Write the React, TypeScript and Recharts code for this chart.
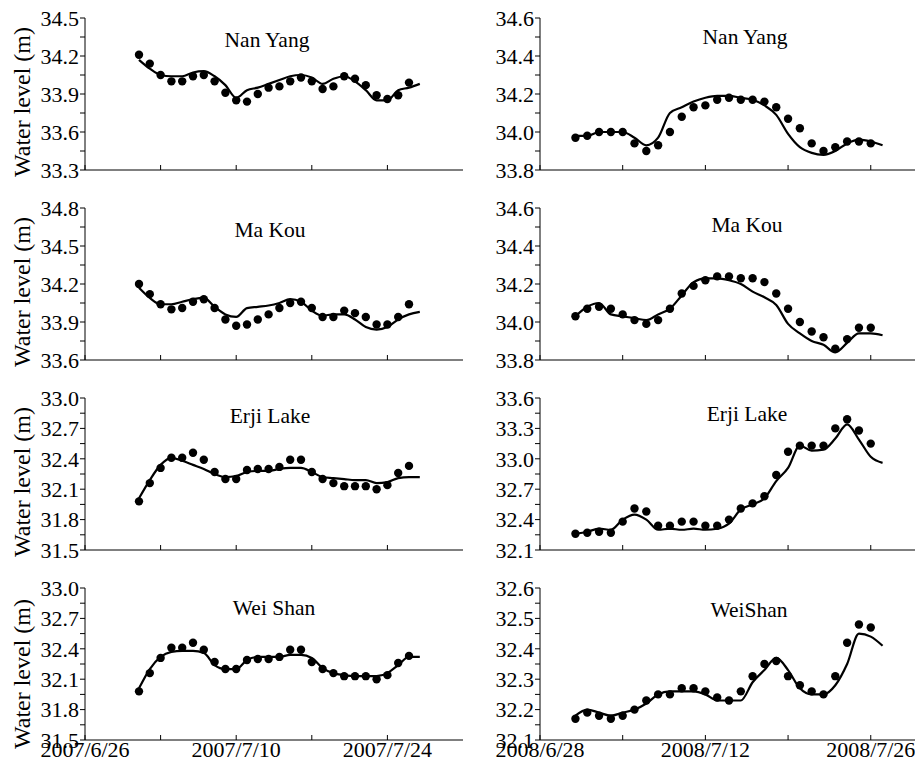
import React from 'react';
import { ComposedChart, Line, Scatter, XAxis, YAxis } from 'recharts';

// day offsets from the first axis date (2007/6/26 and 2008/6/28)
const obsDays2007 = [5, 6, 7, 8, 9, 10, 11, 12, 13, 14, 15, 16, 17, 18, 19, 20, 21, 22, 23, 24, 25, 26, 27, 28, 29, 30];
const simDays2007 = [5, 6, 7, 8, 9, 10, 11, 12, 13, 14, 15, 16, 17, 18, 19, 20, 21, 22, 23, 24, 25, 26, 27, 28, 29, 30, 31];
const obsDays2008 = [3, 4, 5, 6, 7, 8, 9, 10, 11, 12, 13, 14, 15, 16, 17, 18, 19, 20, 21, 22, 23, 24, 25, 26, 27, 28];
const simDays2008 = [3, 4, 5, 6, 7, 8, 9, 10, 11, 12, 13, 14, 15, 16, 17, 18, 19, 20, 21, 22, 23, 24, 25, 26, 27, 28, 29];

const xTicks = [0, 7, 14, 21, 28];
const xLabelDays = [0, 14, 28];
const xLabels2007 = ['2007/6/26', '2007/7/10', '2007/7/24'];
const xLabels2008 = ['2008/6/28', '2008/7/12', '2008/7/26'];

// 2007 observed / simulated
const nanYang07Obs = [34.21, 34.14, 34.05, 34.0, 34.0, 34.04, 34.05, 34.0, 33.91, 33.85, 33.84, 33.9, 33.95, 33.96, 34.0, 34.03, 34.0, 33.94, 33.96, 34.04, 34.02, 33.97, 33.89, 33.86, 33.89, 33.99];
const nanYang07Sim = [34.17, 34.1, 34.05, 34.04, 34.04, 34.07, 34.08, 34.04, 33.97, 33.87, 33.93, 33.95, 33.98, 34.01, 34.04, 34.05, 34.03, 33.98, 34.02, 34.04, 34.0, 33.93, 33.85, 33.85, 33.93, 33.95, 33.98];
const maKou07Obs = [34.2, 34.12, 34.04, 34.0, 34.01, 34.06, 34.08, 34.01, 33.92, 33.87, 33.88, 33.92, 33.96, 34.01, 34.05, 34.06, 34.01, 33.94, 33.94, 33.99, 33.97, 33.94, 33.88, 33.88, 33.94, 34.04];
const maKou07Sim = [34.17, 34.09, 34.04, 34.04, 34.06, 34.08, 34.09, 34.02, 33.96, 33.94, 34.01, 34.02, 34.03, 34.05, 34.08, 34.06, 33.99, 33.95, 33.96, 33.96, 33.92, 33.86, 33.84, 33.86, 33.92, 33.96, 33.98];
const erji07Obs = [31.98, 32.16, 32.31, 32.41, 32.41, 32.46, 32.39, 32.27, 32.2, 32.2, 32.29, 32.3, 32.3, 32.32, 32.39, 32.39, 32.27, 32.2, 32.16, 32.13, 32.13, 32.13, 32.1, 32.14, 32.26, 32.33];
const erji07Sim = [32.01, 32.19, 32.34, 32.41, 32.38, 32.34, 32.3, 32.25, 32.22, 32.23, 32.27, 32.28, 32.28, 32.3, 32.31, 32.31, 32.27, 32.22, 32.21, 32.2, 32.19, 32.19, 32.16, 32.17, 32.21, 32.22, 32.22];
const weiShan07Obs = [31.98, 32.16, 32.31, 32.41, 32.41, 32.46, 32.39, 32.27, 32.2, 32.2, 32.29, 32.3, 32.3, 32.32, 32.39, 32.39, 32.27, 32.2, 32.16, 32.13, 32.13, 32.13, 32.1, 32.14, 32.26, 32.33];
const weiShan07Sim = [32.01, 32.2, 32.32, 32.37, 32.38, 32.38, 32.36, 32.24, 32.2, 32.2, 32.29, 32.32, 32.32, 32.32, 32.34, 32.34, 32.31, 32.21, 32.16, 32.14, 32.13, 32.13, 32.13, 32.16, 32.24, 32.32, 32.32];

// 2008 observed / simulated
const nanYang08Obs = [33.97, 33.98, 34.0, 34.0, 34.0, 33.94, 33.9, 33.93, 34.0, 34.08, 34.13, 34.14, 34.17, 34.18, 34.17, 34.17, 34.16, 34.13, 34.07, 34.02, 33.94, 33.9, 33.92, 33.95, 33.95, 33.94];
const nanYang08Sim = [33.98, 33.98, 34.0, 34.0, 34.0, 33.97, 33.93, 33.97, 34.1, 34.13, 34.16, 34.18, 34.19, 34.19, 34.18, 34.17, 34.14, 34.09, 33.99, 33.92, 33.89, 33.88, 33.9, 33.94, 33.96, 33.95, 33.93];
const maKou08Obs = [34.03, 34.07, 34.08, 34.07, 34.04, 34.01, 33.99, 34.01, 34.07, 34.15, 34.19, 34.22, 34.24, 34.24, 34.23, 34.23, 34.21, 34.15, 34.07, 34.0, 33.95, 33.92, 33.86, 33.91, 33.97, 33.97];
const maKou08Sim = [34.03, 34.08, 34.1, 34.04, 34.03, 34.02, 34.01, 34.04, 34.07, 34.14, 34.21, 34.23, 34.23, 34.22, 34.2, 34.16, 34.13, 34.09, 33.99, 33.94, 33.9, 33.88, 33.84, 33.89, 33.94, 33.94, 33.93];
const erji08Obs = [32.26, 32.27, 32.28, 32.27, 32.38, 32.51, 32.48, 32.34, 32.34, 32.38, 32.38, 32.34, 32.34, 32.4, 32.51, 32.56, 32.63, 32.84, 33.07, 33.13, 33.13, 33.13, 33.3, 33.39, 33.28, 33.15];
const erji08Sim = [32.26, 32.28, 32.31, 32.3, 32.4, 32.45, 32.4, 32.3, 32.31, 32.3, 32.31, 32.3, 32.31, 32.36, 32.5, 32.55, 32.61, 32.78, 32.91, 33.13, 33.08, 33.09, 33.2, 33.34, 33.19, 33.02, 32.96];
const weiShan08Obs = [32.17, 32.19, 32.18, 32.17, 32.18, 32.2, 32.23, 32.25, 32.25, 32.27, 32.27, 32.26, 32.24, 32.23, 32.26, 32.31, 32.35, 32.36, 32.31, 32.28, 32.26, 32.25, 32.31, 32.42, 32.48, 32.47];
const weiShan08Sim = [32.18, 32.2, 32.19, 32.18, 32.19, 32.2, 32.22, 32.25, 32.26, 32.26, 32.26, 32.25, 32.23, 32.23, 32.23, 32.29, 32.33, 32.37, 32.33, 32.27, 32.25, 32.25, 32.28, 32.35, 32.45, 32.44, 32.41];

// y ticks (major labelled, minor unlabelled)
const ticksNanYang07 = [33.3, 33.45, 33.6, 33.75, 33.9, 34.05, 34.2, 34.35, 34.5];
const majorsNanYang07 = [33.3, 33.6, 33.9, 34.2, 34.5];
const ticksMaKou07 = [33.6, 33.75, 33.9, 34.05, 34.2, 34.35, 34.5, 34.65, 34.8];
const majorsMaKou07 = [33.6, 33.9, 34.2, 34.5, 34.8];
const ticksLow07 = [31.5, 31.65, 31.8, 31.95, 32.1, 32.25, 32.4, 32.55, 32.7, 32.85, 33.0];
const majorsLow07 = [31.5, 31.8, 32.1, 32.4, 32.7, 33.0];
const ticksHigh08 = [33.8, 33.9, 34.0, 34.1, 34.2, 34.3, 34.4, 34.5, 34.6];
const majorsHigh08 = [33.8, 34.0, 34.2, 34.4, 34.6];
const ticksErji08 = [32.1, 32.25, 32.4, 32.55, 32.7, 32.85, 33.0, 33.15, 33.3, 33.45, 33.6];
const majorsErji08 = [32.1, 32.4, 32.7, 33.0, 33.3, 33.6];
const ticksWeiShan08 = [32.1, 32.15, 32.2, 32.25, 32.3, 32.35, 32.4, 32.45, 32.5, 32.55, 32.6];
const majorsWeiShan08 = [32.1, 32.2, 32.3, 32.4, 32.5, 32.6];

const FONT = 'Liberation Serif, serif';

type PanelProps = {
  left: number;
  top: number;
  title: string;
  titleX: number;
  titleY: number;
  obsDays: number[];
  obs: number[];
  simDays: number[];
  sim: number[];
  yDomain: [number, number];
  yTicks: number[];
  yMajors: number[];
  xMax: number;
  xLabels: string[];
  showX: boolean;
};

function Panel(p: PanelProps) {
  const simRows = p.simDays.map((d, i) => ({ d, v: p.sim[i] }));
  const obsRows = p.obsDays.map((d, i) => ({ d, v: p.obs[i] }));
  const xAxisH = p.showX ? 27 : 20;
  const height = 18 + 152 + xAxisH;
  const fmtY = (v: number) => (p.yMajors.some((m) => Math.abs(m - v) < 1e-6) ? v.toFixed(1) : '');
  const fmtX = (v: number) => {
    if (!p.showX) return '';
    const i = xLabelDays.indexOf(v);
    return i >= 0 ? p.xLabels[i] : '';
  };
  const tickStyle = { fontFamily: FONT, fontSize: 22, fill: '#000' };
  return (
    <div style={{ position: 'absolute', left: p.left, top: p.top, width: 470, height, fontFamily: FONT }}>
      <ComposedChart width={470} height={height} margin={{ top: 18, right: 7, bottom: 0, left: 0 }} style={{ fontFamily: FONT }}>
        <XAxis
          xAxisId="b"
          type="number"
          dataKey="d"
          domain={[0, p.xMax]}
          ticks={xTicks}
          tickFormatter={fmtX}
          height={xAxisH}
          tickSize={-5}
          tickMargin={6}
          interval={0}
          tick={tickStyle}
          stroke="#000"
          allowDataOverflow
        />
        <XAxis
          xAxisId="t"
          orientation="top"
          type="number"
          dataKey="d"
          domain={[0, p.xMax]}
          ticks={xTicks}
          tickFormatter={() => ''}
          height={0}
          mirror
          tickSize={4}
          stroke="#000"
        />
        <YAxis
          yAxisId="l"
          type="number"
          domain={p.yDomain}
          ticks={p.yTicks}
          tickFormatter={fmtY}
          interval={0}
          width={85}
          tickSize={5}
          tickMargin={1}
          tick={tickStyle}
          stroke="#000"
          allowDataOverflow
        />
        <YAxis
          yAxisId="r"
          orientation="right"
          type="number"
          domain={p.yDomain}
          ticks={p.yTicks}
          tickFormatter={() => ''}
          interval={0}
          width={0}
          mirror
          tickSize={4}
          stroke="#000"
        />
        <Line
          xAxisId="b"
          yAxisId="l"
          data={simRows}
          dataKey="v"
          type="monotone"
          stroke="#000"
          strokeWidth={2.2}
          dot={false}
          isAnimationActive={false}
        />
        <Scatter
          xAxisId="b"
          yAxisId="l"
          data={obsRows}
          dataKey="v"
          fill="#000"
          shape={(s: any) => <circle cx={s.cx} cy={s.cy} r={4.2} fill="#000" />}
          isAnimationActive={false}
        />
      </ComposedChart>
      <div
        style={{
          position: 'absolute',
          left: p.titleX,
          top: p.titleY,
          transform: 'translate(-50%, -50%)',
          fontFamily: FONT,
          fontSize: 21.5,
          whiteSpace: 'nowrap',
          color: '#000',
        }}
      >
        {p.title}
      </div>
    </div>
  );
}

function YLabel({ cy }: { cy: number }) {
  return (
    <div
      style={{
        position: 'absolute',
        left: 22 - 100,
        top: cy - 14,
        width: 200,
        height: 28,
        lineHeight: '28px',
        textAlign: 'center',
        transform: 'rotate(-90deg)',
        fontFamily: FONT,
        fontSize: 24,
        color: '#000',
        whiteSpace: 'nowrap',
      }}
    >
      Water level (m)
    </div>
  );
}

export default function App() {
  return (
    <div style={{ position: 'absolute', left: 0, top: 0, width: 915, height: 767, overflow: 'hidden', background: '#fff', fontFamily: FONT }}>
      <Panel left={0} top={0} title="Nan Yang" titleX={267} titleY={40}
        obsDays={obsDays2007} obs={nanYang07Obs} simDays={simDays2007} sim={nanYang07Sim}
        yDomain={[33.3, 34.5]} yTicks={ticksNanYang07} yMajors={majorsNanYang07} xMax={35} xLabels={xLabels2007} showX={false} />
      <Panel left={0} top={190} title="Ma Kou" titleX={270} titleY={40}
        obsDays={obsDays2007} obs={maKou07Obs} simDays={simDays2007} sim={maKou07Sim}
        yDomain={[33.6, 34.8]} yTicks={ticksMaKou07} yMajors={majorsMaKou07} xMax={35} xLabels={xLabels2007} showX={false} />
      <Panel left={0} top={380} title="Erji Lake" titleX={270} titleY={36}
        obsDays={obsDays2007} obs={erji07Obs} simDays={simDays2007} sim={erji07Sim}
        yDomain={[31.5, 33.0]} yTicks={ticksLow07} yMajors={majorsLow07} xMax={35} xLabels={xLabels2007} showX={false} />
      <Panel left={0} top={570} title="Wei Shan" titleX={274} titleY={38}
        obsDays={obsDays2007} obs={weiShan07Obs} simDays={simDays2007} sim={weiShan07Sim}
        yDomain={[31.5, 33.0]} yTicks={ticksLow07} yMajors={majorsLow07} xMax={35} xLabels={xLabels2007} showX={true} />

      <Panel left={455} top={0} title="Nan Yang" titleX={290} titleY={37}
        obsDays={obsDays2008} obs={nanYang08Obs} simDays={simDays2008} sim={nanYang08Sim}
        yDomain={[33.8, 34.6]} yTicks={ticksHigh08} yMajors={majorsHigh08} xMax={32} xLabels={xLabels2008} showX={false} />
      <Panel left={455} top={190} title="Ma Kou" titleX={292} titleY={35}
        obsDays={obsDays2008} obs={maKou08Obs} simDays={simDays2008} sim={maKou08Sim}
        yDomain={[33.8, 34.6]} yTicks={ticksHigh08} yMajors={majorsHigh08} xMax={32} xLabels={xLabels2008} showX={false} />
      <Panel left={455} top={380} title="Erji Lake" titleX={292} titleY={34}
        obsDays={obsDays2008} obs={erji08Obs} simDays={simDays2008} sim={erji08Sim}
        yDomain={[32.1, 33.6]} yTicks={ticksErji08} yMajors={majorsErji08} xMax={32} xLabels={xLabels2008} showX={false} />
      <Panel left={455} top={570} title="WeiShan" titleX={294} titleY={40}
        obsDays={obsDays2008} obs={weiShan08Obs} simDays={simDays2008} sim={weiShan08Sim}
        yDomain={[32.1, 32.6]} yTicks={ticksWeiShan08} yMajors={majorsWeiShan08} xMax={32} xLabels={xLabels2008} showX={true} />

      <YLabel cy={102} />
      <YLabel cy={292} />
      <YLabel cy={482} />
      <YLabel cy={674} />
    </div>
  );
}
